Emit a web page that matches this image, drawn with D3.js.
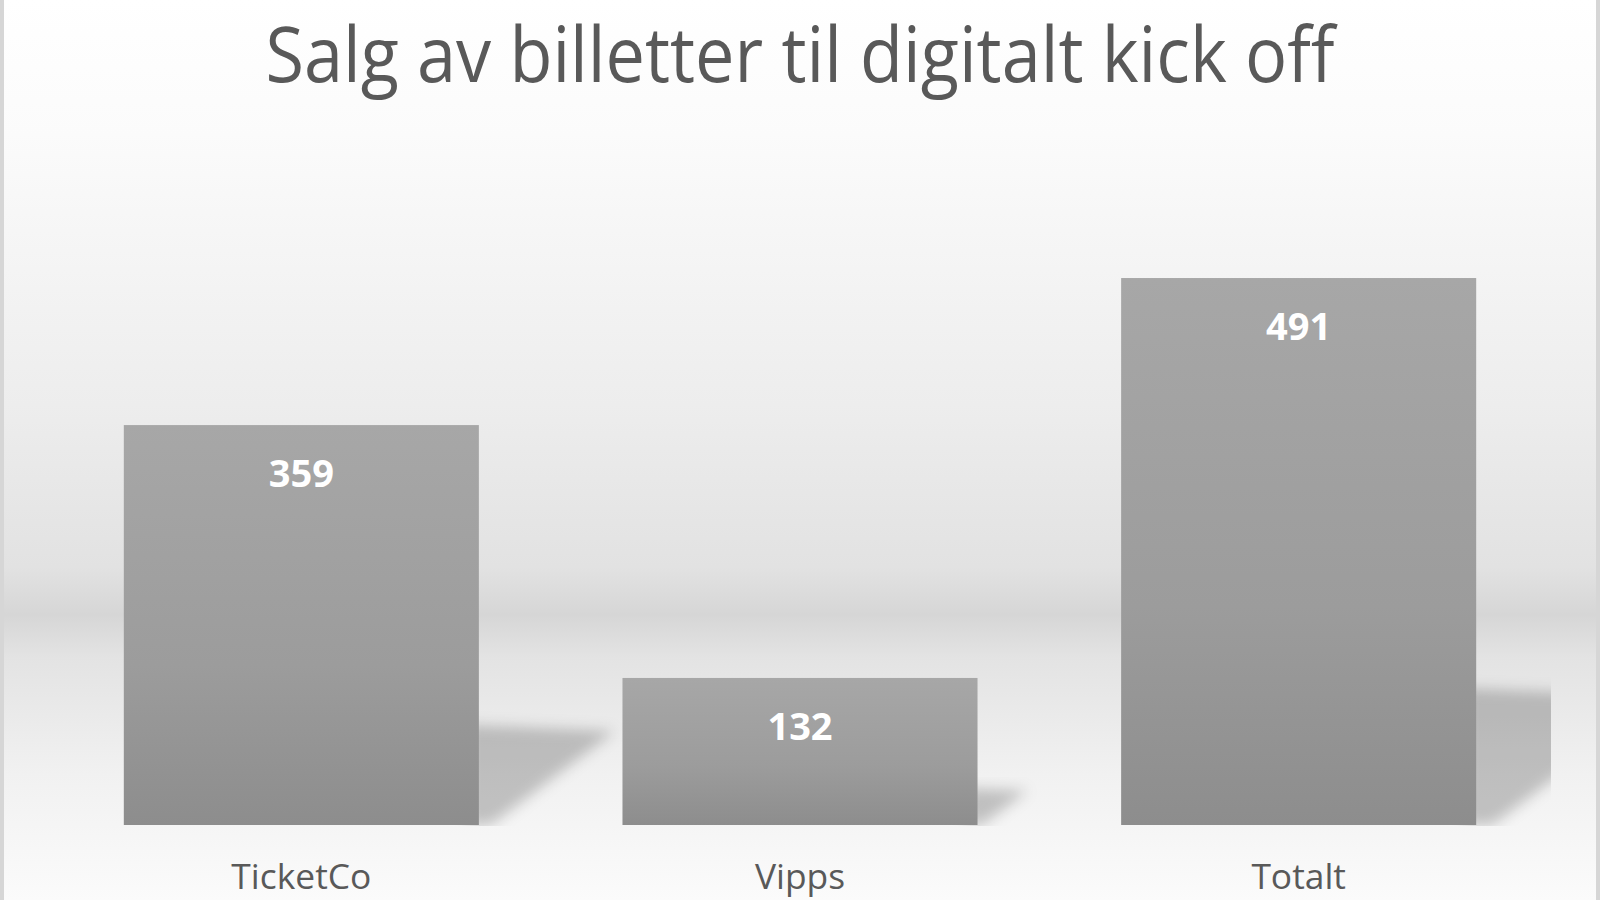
<!DOCTYPE html>
<html>
<head>
<meta charset="utf-8">
<script src="https://cdn.jsdelivr.net/npm/d3@7"></script>
<style>
  html, body { margin: 0; padding: 0; background: #fff; }
  svg { display: block; }
</style>
</head>
<body>
<svg id="chart" width="1600" height="900"></svg>
<script>
// ---- data ----
const titleText = "Salg av billetter til digitalt kick off";
const categories = ["TicketCo", "Vipps", "Totalt"];
const values = [359, 132, 491];
const yDomain = [0, 500];

// ---- layout ----
const W = 1600, H = 900;
const plot = { left: 52, right: 1548, top: 268, bottom: 825, clipLeft: 48, clipRight: 1551 };

const svg = d3.select("#chart");
const defs = svg.append("defs");

// background gradient
const bg = defs.append("linearGradient").attr("id", "bgGrad")
  .attr("x1", 0).attr("y1", 0).attr("x2", 0).attr("y2", 1);
[[0, "#ffffff"], [0.15, "#fbfbfb"], [0.45, "#ededed"], [0.63, "#e2e2e2"],
 [0.683, "#d6d6d6"], [0.73, "#e3e3e3"], [0.86, "#f1f1f1"], [1, "#fbfbfb"]]
  .forEach(([o, c]) => bg.append("stop").attr("offset", o).attr("stop-color", c));

// bar gradient
const bargrad = defs.append("linearGradient").attr("id", "barGrad")
  .attr("x1", 0).attr("y1", 0).attr("x2", 0).attr("y2", 1);
[[0, "#a7a7a7"], [0.6, "#9c9c9c"], [1, "#8d8d8d"]]
  .forEach(([o, c]) => bargrad.append("stop").attr("offset", o).attr("stop-color", c));

defs.append("filter").attr("id", "blur")
  .attr("x", "-30%").attr("y", "-30%").attr("width", "160%").attr("height", "160%")
  .append("feGaussianBlur").attr("stdDeviation", 7);

defs.append("clipPath").attr("id", "plotClip").append("rect")
  .attr("x", plot.clipLeft).attr("y", 0)
  .attr("width", plot.clipRight - plot.clipLeft).attr("height", plot.bottom + 1);

svg.append("rect").attr("width", W).attr("height", H).attr("fill", "url(#bgGrad)");
// side borders
svg.append("rect").attr("x", 0).attr("y", 0).attr("width", 4).attr("height", H).attr("fill", "#d6d6d6");
svg.append("rect").attr("x", W - 4).attr("y", 0).attr("width", 4).attr("height", H).attr("fill", "#d6d6d6");

// scales
const x = d3.scaleBand().domain(categories).range([plot.left, plot.right])
  .paddingInner(0.288).paddingOuter(0.144);
const y = d3.scaleLinear().domain(yDomain).range([plot.bottom, plot.top]);

const data = categories.map((c, i) => ({ cat: c, val: values[i] }));

// shadows
const sh = svg.append("g").attr("clip-path", "url(#plotClip)");
sh.selectAll("path").data(data).enter().append("path")
  .attr("d", d => {
    const x0 = x(d.cat) + x.bandwidth();
    const yb = y(0);
    const h = y(0) - y(d.val);
    return d3.line()([
      [x0 - 12, yb - 0.25 * h],
      [x0 + 0.34 * h, yb - 0.235 * h],
      [x0 + 0.03 * h, yb],
      [x0 - 12, yb]
    ]) + "Z";
  })
  .attr("fill", "#000").attr("fill-opacity", 0.21)
  .attr("filter", "url(#blur)");

// bars
svg.append("g").selectAll("rect").data(data).enter().append("rect")
  .attr("x", d => x(d.cat))
  .attr("y", d => y(d.val))
  .attr("width", x.bandwidth())
  .attr("height", d => y(0) - y(d.val))
  .attr("fill", "url(#barGrad)");

const font = "'Open Sans', 'Liberation Sans', sans-serif";

// title: size a bit taller than width-fit, then compress to target width
const title = svg.append("text")
  .attr("x", 800).attr("y", 82)
  .attr("text-anchor", "middle")
  .attr("font-family", font)
  .attr("font-size", 60)
  .attr("fill", "#595959")
  .text(titleText);
const tw = title.node().getComputedTextLength();
title.attr("font-size", 60 * 1069 / tw * 1.1)
  .attr("textLength", 1069).attr("lengthAdjust", "spacingAndGlyphs");

// value labels
svg.append("g").selectAll("text").data(data).enter().append("text")
  .attr("x", d => x(d.cat) + x.bandwidth() / 2)
  .attr("y", d => y(d.val) + 62)
  .attr("text-anchor", "middle")
  .attr("font-family", font)
  .attr("font-weight", "bold")
  .attr("font-size", 38)
  .attr("fill", "#ffffff")
  .text(d => d.val);

// category axis labels
const xAxis = d3.axisBottom(x).tickSize(0).tickPadding(0);
const gx = svg.append("g").attr("transform", `translate(0, ${plot.bottom})`).call(xAxis);
gx.select(".domain").remove();
gx.selectAll("text")
  .attr("y", 64).attr("dy", null)
  .attr("font-family", font)
  .attr("font-size", 40)
  .attr("fill", "#595959");
const first = gx.select("text");
const fs = 40 * 140 / first.node().getComputedTextLength();
gx.selectAll("text").attr("font-size", fs);
</script>
</body>
</html>
